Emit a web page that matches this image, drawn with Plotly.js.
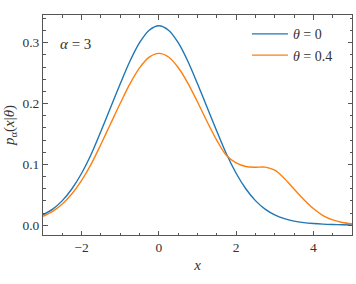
<!DOCTYPE html>
<html>
<head>
<meta charset="utf-8">
<script src="https://cdn.plot.ly/plotly-3.0.1.min.js"></script>
<style>html,body{margin:0;padding:0;background:#fff;}#chart{width:356px;height:284px;}</style>
</head>
<body>
<div id="chart"></div>
<script>
const xs = [-3,-2.75,-2.5,-2.25,-2,-1.75,-1.5,-1.25,-1,-0.75,-0.5,-0.25,0,0.25,0.5,0.75,1,1.25,1.5,1.75,2,2.25,2.5,2.75,3,3.25,3.5,3.75,4,4.25,4.5,4.75,5];
const theta0 = [0.0172,0.0265,0.0405,0.060,0.0855,0.117,0.1545,0.1935,0.2325,0.2695,0.300,0.3205,0.3278,0.3205,0.300,0.2695,0.2325,0.1935,0.1545,0.117,0.0855,0.060,0.0405,0.0265,0.017,0.0108,0.0068,0.0043,0.0028,0.0018,0.0012,0.0008,0.0005];
const theta04 = [0.0148,0.0228,0.0349,0.0517,0.0737,0.1009,0.1332,0.1668,0.2004,0.2323,0.2586,0.2763,0.2824,0.2765,0.2592,0.2336,0.2025,0.170,0.1395,0.1145,0.1025,0.0965,0.0953,0.0955,0.0905,0.077,0.0595,0.0425,0.0275,0.016,0.0088,0.0046,0.0024];
const seriesNames = ['<i>θ</i> = 0','<i>θ</i> = 0.4'];
const xTicks = [-2,0,2,4];
const yTicks = [0.0,0.1,0.2,0.3];

const serif = "'Liberation Serif', 'DejaVu Serif', serif";
const axisCommon = {
  showline:true, linecolor:'#555', linewidth:1, mirror:'allticks',
  ticks:'inside', ticklen:4.5, tickwidth:1, tickcolor:'#555',
  showgrid:false, zeroline:false,
  tickfont:{family:serif, size:13.5, color:'#333'}
};
const data = [
  {x:xs, y:theta0, type:'scatter', mode:'lines', name:seriesNames[0], line:{color:'#1f77b4', width:1.4, shape:'spline', smoothing:0.9}},
  {x:xs, y:theta04, type:'scatter', mode:'lines', name:seriesNames[1], line:{color:'#ff7f0e', width:1.4, shape:'spline', smoothing:0.9}}
];
const layout = {
  width:356, height:284,
  margin:{l:43, r:4, t:15, b:49},
  paper_bgcolor:'#fff', plot_bgcolor:'#fff',
  font:{family:serif, color:'#333'},
  xaxis:Object.assign({}, axisCommon, {
    range:[-3,5], tickvals:xTicks, ticktext:xTicks.map(v=>v<0?'\u2212'+Math.abs(v):String(v)),
    minor:{dtick:0.5, tick0:0, ticks:'inside', ticklen:2.5, tickcolor:'#555', showgrid:false},
    title:{text:'<i>x</i>', font:{family:serif, size:15, color:'#333'}, standoff:5}
  }),
  yaxis:Object.assign({}, axisCommon, {
    range:[-0.016,0.3455], tickvals:yTicks, ticktext:yTicks.map(v=>v.toFixed(1)),
    minor:{dtick:0.02, tick0:0, ticks:'inside', ticklen:2.5, tickcolor:'#555', showgrid:false},
    title:{text:'<i>p</i><sub>α</sub>(<i>x</i>|<i>θ</i>)', font:{family:serif, size:15, color:'#333'}, standoff:4}
  }),
  showlegend:true,
  legend:{x:0.66, y:0.985, xanchor:'left', yanchor:'top', bgcolor:'rgba(0,0,0,0)', font:{family:serif, size:14, color:'#333'}, itemwidth:36},
  annotations:[{xref:'paper', yref:'paper', x:0.048, y:0.87, xanchor:'left', yanchor:'middle', showarrow:false, text:'<i>α</i> = 3', font:{family:serif, size:15, color:'#333'}}]
};
Plotly.newPlot('chart', data, layout, {displayModeBar:false, staticPlot:true});
</script>
</body>
</html>
